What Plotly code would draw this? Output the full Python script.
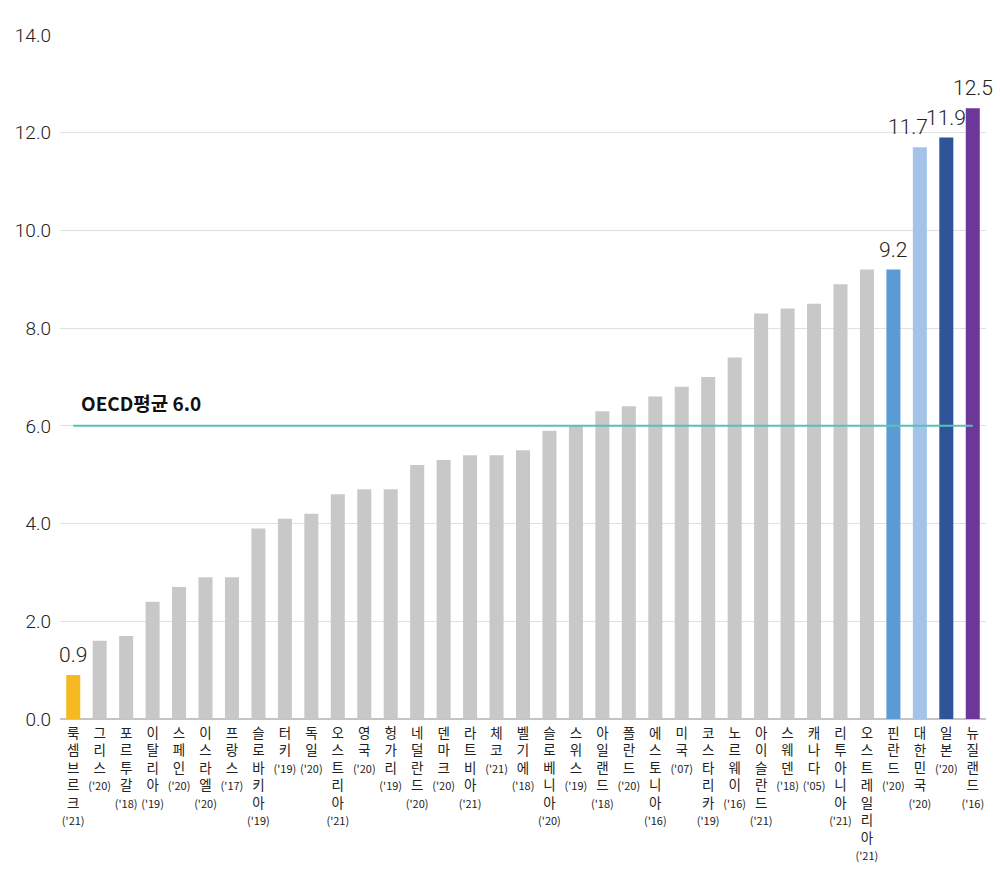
import plotly.graph_objects as go

countries = ["룩셈브르크", "그리스", "포르투갈", "이탈리아", "스페인", "이스라엘", "프랑스",
             "슬로바키아", "터키", "독일", "오스트리아", "영국", "헝가리", "네덜란드", "덴마크",
             "라트비아", "체코", "벨기에", "슬로베니아", "스위스", "아일랜드", "폴란드",
             "에스토니아", "미국", "코스타리카", "노르웨이", "아이슬란드", "스웨덴", "캐나다",
             "리투아니아", "오스트레일리아", "핀란드", "대한민국", "일본", "뉴질랜드"]
years = ["'21", "'20", "'18", "'19", "'20", "'20", "'17",
         "'19", "'19", "'20", "'21", "'20", "'19", "'20", "'20",
         "'21", "'21", "'18", "'20", "'19", "'18", "'20",
         "'16", "'07", "'19", "'16", "'21", "'18", "'05",
         "'21", "'21", "'20", "'20", "'20", "'16"]
values = [0.9, 1.6, 1.7, 2.4, 2.7, 2.9, 2.9,
          3.9, 4.1, 4.2, 4.6, 4.7, 4.7, 5.2, 5.3,
          5.4, 5.4, 5.5, 5.9, 6.0, 6.3, 6.4,
          6.6, 6.8, 7.0, 7.4, 8.3, 8.4, 8.5,
          8.9, 9.2, 9.2, 11.7, 11.9, 12.5]
highlight_colors = {"룩셈브르크": "#f6b922", "핀란드": "#5a9bd6", "대한민국": "#a3c4e8",
                    "일본": "#2d5597", "뉴질랜드": "#6b3799"}
label_shift = {"대한민국": -12}
oecd_avg = 6.0
y_ticks = [0, 2, 4, 6, 8, 10, 12, 14]

gray = "#c8c8c8"
colors = [highlight_colors.get(c, gray) for c in countries]
ticktext = ["<br>".join(list(c)) + f"<br><span style='font-size:11px'>({y})</span>"
            for c, y in zip(countries, years)]

fig = go.Figure()
fig.add_trace(go.Bar(
    x=countries, y=values, marker=dict(color=colors, line=dict(width=0)),
    hoverinfo="skip",
))

for c, v in zip(countries, values):
    if c in highlight_colors:
        fig.add_annotation(x=c, y=v, xref="x", yref="y", text=f"{v:.1f}",
                           showarrow=False, yanchor="bottom", yshift=6,
                           xshift=label_shift.get(c, 0),
                           font=dict(family="Roboto", size=21, color="#222222", weight=300))

fig.add_shape(type="line", xref="x", yref="y", x0=0, x1=len(countries) - 1,
              y0=oecd_avg, y1=oecd_avg, line=dict(color="#5cbfb6", width=2), layer="above")
fig.add_annotation(x=0, y=oecd_avg, xref="x", yref="y", text=f"OECD평균 {oecd_avg:.1f}",
                   showarrow=False, xanchor="left", yanchor="bottom", xshift=6, yshift=8,
                   font=dict(family="Noto Sans CJK KR", size=19, color="#111111", weight="bold"))

fig.update_layout(
    width=1000, height=873,
    margin=dict(l=60, r=14, t=35, b=154),
    paper_bgcolor="white", plot_bgcolor="white",
    bargap=0.47, showlegend=False,
    font=dict(family="Noto Sans CJK KR", color="#222222"),
)
fig.update_xaxes(
    range=[-0.5, len(countries) - 0.5],
    tickmode="array", tickvals=countries, ticktext=ticktext,
    tickangle=0, tickfont=dict(family="Noto Sans CJK KR", size=13.5, color="#222222"),
    showgrid=False, showline=False, zeroline=False, ticks="",
    ticklabelstandoff=4, automargin=False,
)
fig.update_yaxes(
    range=[0, 14], tickvals=y_ticks, ticktext=[f"{t:.1f}" for t in y_ticks],
    tickfont=dict(family="Roboto", size=19, color="#222222", weight=300),
    showgrid=True, gridcolor="#e0e0e0", gridwidth=1,
    zeroline=True, zerolinecolor="#c4c4c4", zerolinewidth=2, showline=False,
    ticklabelstandoff=8, automargin=False,
)

fig.write_html("out.html")
